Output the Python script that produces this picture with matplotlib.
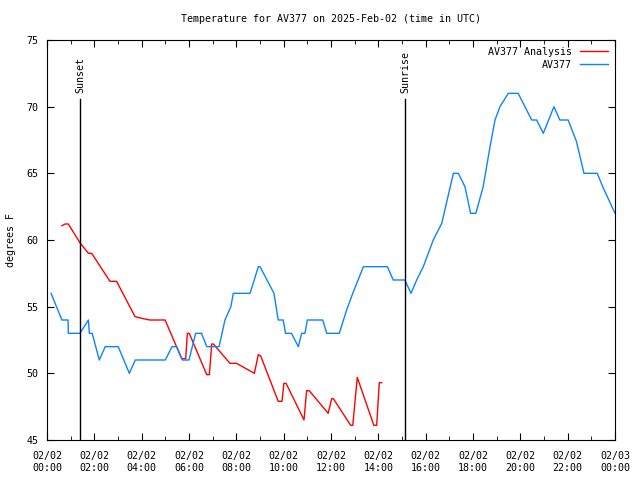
import matplotlib
matplotlib.use("Agg")
from matplotlib import pyplot as plt
from matplotlib.ticker import MultipleLocator

plt.rcParams['font.family'] = ['DejaVu Sans Mono']
plt.rcParams['font.size'] = 7.2

# AV377 observations (hours after 02/02 00:00 UTC, deg F)
obs_h = [0.17, 0.63, 0.89, 0.90, 1.39, 1.75, 1.79, 1.91, 2.21, 2.46, 3.01, 3.48, 3.73,
         5.00, 5.28, 5.48, 5.72, 6.00, 6.28, 6.53, 6.75, 7.27, 7.52, 7.77, 7.87, 8.58,
         8.93, 9.00, 9.59, 9.77, 9.98, 10.08, 10.33, 10.62, 10.76, 10.90, 11.00, 11.65,
         11.82, 12.35, 12.66, 12.92, 13.37, 14.38, 14.63, 15.12, 15.38, 15.62, 15.90,
         16.32, 16.68, 17.17, 17.38, 17.66, 17.90, 18.12, 18.43, 18.72, 18.93, 19.14,
         19.49, 19.91, 20.48, 20.69, 20.97, 21.42, 21.67, 22.02, 22.37, 22.69, 23.25,
         23.48, 24.00]
obs_t = [56, 54, 54, 53, 53, 54, 53, 53, 51, 52, 52, 50, 51,
         51, 52, 52, 51, 51, 53, 53, 52, 52, 54, 55, 56, 56,
         58, 58, 56, 54, 54, 53, 53, 52, 53, 53, 54, 54,
         53, 53, 54.75, 56, 58, 58, 57, 57, 56, 57, 58,
         60, 61.25, 65, 65, 64, 62, 62, 64, 67, 69, 70,
         71, 71, 69, 69, 68, 70, 69, 69, 67.4, 65, 65,
         64, 62]

# AV377 analysis
ana_h = [0.63, 0.76, 0.90, 1.39, 1.75, 1.89, 2.66, 2.94, 3.72, 4.07, 4.35, 4.99,
         5.69, 5.86, 5.93, 6.01, 6.75, 6.86, 6.96, 7.03, 7.73, 8.01, 8.76, 8.93,
         9.03, 9.77, 9.93, 10.01, 10.10, 10.86, 10.97, 11.08, 11.88, 12.03, 12.10,
         12.83, 12.92, 13.11, 13.81, 13.93, 14.04, 14.14]
ana_t = [61.07, 61.2, 61.2, 59.8, 59.0, 59.0, 56.9, 56.9, 54.25, 54.1, 54.0, 54.0,
         51.1, 51.1, 53.0, 53.0, 49.9, 49.9, 52.2, 52.2, 50.75, 50.75, 50.0, 51.4,
         51.3, 47.9, 47.9, 49.25, 49.25, 46.5, 48.7, 48.7, 47.0, 48.1, 48.1,
         46.1, 46.1, 49.7, 46.1, 46.1, 49.3, 49.3]

sunset_h = 1.39
sunrise_h = 15.12

tick_hours = list(range(0, 25, 2))
tick_labels = ["02/02\n%02d:00" % h for h in range(0, 24, 2)] + ["02/03\n00:00"]

fig = plt.figure(figsize=(6.4, 4.8), dpi=100)
ax = fig.add_axes([47/640, 40/480, 568/640, 400/480])

ax.plot(ana_h, ana_t, color="#ff0000", lw=1, label="AV377 Analysis")
ax.plot(obs_h, obs_t, color="#0a84ff", lw=1, label="AV377")

for h, name in [(sunset_h, "Sunset"), (sunrise_h, "Sunrise")]:
    ax.plot([h, h], [45, 70.6], color="black", lw=1)
    ax.text(h + 0.03, 71.0, name, rotation=90, ha="center", va="bottom")

ax.set_xlim(0, 24)
ax.set_ylim(45, 75)
ax.set_xticks(tick_hours)
ax.set_xticklabels(tick_labels)
ax.xaxis.set_minor_locator(MultipleLocator(1))
ax.set_yticks(range(45, 76, 5))
ax.tick_params(which="both", direction="in", top=True, right=True)
ax.tick_params(axis="x", pad=8)
ax.tick_params(axis="y", pad=6)
ax.tick_params(which="major", length=5)
ax.tick_params(which="minor", length=3)
ax.set_ylabel("degrees F", labelpad=8)
ax.set_title("Temperature for AV377 on 2025-Feb-02 (time in UTC)",
             fontsize=7.2, pad=13)

ax.legend(loc="upper right", frameon=False, markerfirst=False,
          handlelength=2.8, handletextpad=0.8, borderaxespad=0.3,
          labelspacing=0.3)

fig.savefig("out.png", dpi=100)
